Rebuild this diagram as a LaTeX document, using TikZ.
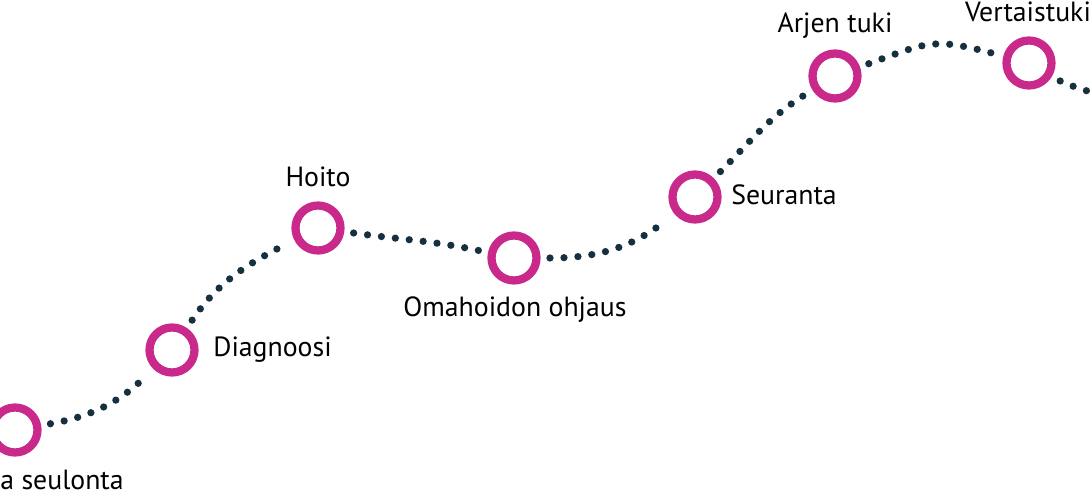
\documentclass[tikz,border=0pt]{standalone}
\usepackage{fontspec}
\setmainfont{PT Sans}
\usepackage{xcolor}
\usetikzlibrary{positioning}
\definecolor{ringpink}{HTML}{C8298A}
\definecolor{dotnavy}{HTML}{17303F}

\begin{document}
\begin{tikzpicture}[x=0.02cm, y=0.02cm,
  station/.style={circle, draw=ringpink, line width=0.165cm, fill=white, minimum size=0.9cm, inner sep=0pt, outer sep=0.08cm},
  trail/.style={dotnavy, line width=0.145cm, line cap=round, dash pattern=on 0pt off 0.28cm, shorten <=0.19cm, shorten >=0.19cm},
  stationtext/.style={font=\fontsize{15.8}{18}\selectfont, inner sep=0pt}]
\useasboundingbox (0,0) rectangle (1090,500);

% Stations along the path
\node[station] (c1) at (15,70) {};
\node[station] (c2) at (172,150) {};
\node[station] (c3) at (318,272) {};
\node[station] (c4) at (514,242) {};
\node[station] (c5) at (695,303) {};
\node[station] (c6) at (835,424) {};
\node[station] (c7) at (1029,437) {};
\coordinate (exit) at (1100,402);

% Labels
\node[stationtext, anchor=base west] (t1) at (0,10) {a seulonta};
\node[stationtext, anchor=base west] (t2) at (213,143) {Diagnoosi};
\node[stationtext, anchor=base] (t3) at (318,313) {Hoito};
\node[stationtext, anchor=base] (t4) at (515,183) {Omahoidon ohjaus};
\node[stationtext, anchor=base west] (t5) at (731,295) {Seuranta};
\node[stationtext, anchor=base] (t6) at (835,467) {Arjen tuki};
\node[stationtext, anchor=base] (t7) at (1028,478) {Vertaistuki};

% Dotted trail
\draw[trail] (c1) to[out=10, in=225] (c2);
\draw[trail] (c2) to[out=56, in=207] (c3);
\draw[trail] (c3) to[out=-8, in=168] (c4);
\draw[trail] (c4) to[out=0, in=219] (c5);
\draw[trail] (c5) to[out=45, in=212] (c6);
\draw[trail] (c6) to[out=20, in=165, looseness=1.3] (c7);
\draw[trail] (c7) to[out=-30, in=150] (exit);
\end{tikzpicture}
\end{document}
